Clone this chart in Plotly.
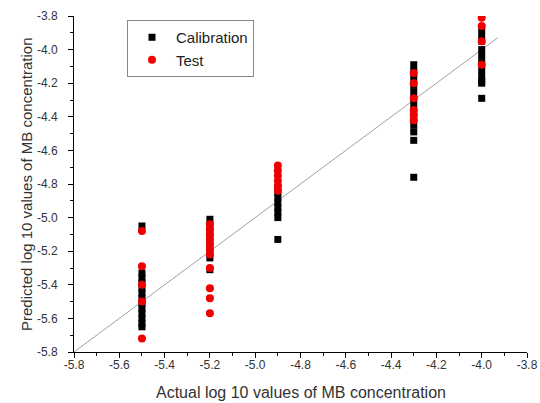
import plotly.graph_objects as go

# Calibration data (x = actual log10, y = predicted log10)
cal_x = [-5.5]*13 + [-5.2]*8 + [-4.9]*8 + [-4.3]*13 + [-4.0]*11
cal_y = [-5.05, -5.33, -5.36, -5.39, -5.42, -5.45, -5.48, -5.51, -5.54, -5.57, -5.60, -5.63, -5.65,
         -5.01, -5.05, -5.09, -5.13, -5.17, -5.21, -5.24, -5.31,
         -4.82, -4.85, -4.88, -4.91, -4.94, -4.97, -5.00, -5.13,
         -4.09, -4.13, -4.17, -4.21, -4.25, -4.29, -4.33, -4.37, -4.41, -4.45, -4.49, -4.54, -4.76,
         -3.87, -3.91, -3.95, -4.00, -4.04, -4.08, -4.12, -4.16, -4.19, -4.20, -4.29]

# Test data
test_x = [-5.5]*5 + [-5.2]*11 + [-4.9]*6 + [-4.3]*6 + [-4.0]*4
test_y = [-5.08, -5.29, -5.40, -5.50, -5.72,
          -5.04, -5.07, -5.10, -5.13, -5.16, -5.19, -5.22, -5.30, -5.42, -5.48, -5.57,
          -4.69, -4.72, -4.75, -4.78, -4.81, -4.84,
          -4.14, -4.20, -4.29, -4.36, -4.39, -4.42,
          -3.81, -3.86, -3.95, -4.09]

# Reference line y = x
line_x = [-5.8, -3.93]
line_y = [-5.8, -3.93]

# Tick values and labels
tick_vals = [-5.8, -5.6, -5.4, -5.2, -5.0, -4.8, -4.6, -4.4, -4.2, -4.0, -3.8]
tick_text = ["-5.8", "-5.6", "-5.4", "-5.2", "-5.0", "-4.8", "-4.6", "-4.4", "-4.2", "-4.0", "-3.8"]

fig = go.Figure()
fig.add_trace(go.Scatter(x=line_x, y=line_y, mode="lines",
                         line=dict(color="#a0a0a0", width=1), showlegend=False, hoverinfo="skip"))
fig.add_trace(go.Scatter(x=cal_x, y=cal_y, mode="markers", name="Calibration",
                         marker=dict(symbol="square", size=7, color="black")))
fig.add_trace(go.Scatter(x=test_x, y=test_y, mode="markers", name="Test",
                         marker=dict(symbol="circle", size=8, color="#ee0000")))

font = "Liberation Sans, Arial, sans-serif"
txt = "#333333"
axis_common = dict(
    range=[-5.8, -3.8], tickvals=tick_vals, ticktext=tick_text,
    showgrid=False, zeroline=False, showline=True, linecolor="black", linewidth=1,
    ticks="outside", ticklen=5, tickwidth=1, tickcolor="black",
    minor=dict(dtick=0.1, ticks="outside", ticklen=3, tickcolor="black", tickwidth=1),
    tickfont=dict(family=font, size=12, color=txt),
    mirror=False, automargin=False,
)

fig.update_layout(
    width=540, height=403,
    margin=dict(l=74, r=13, t=16, b=51),
    paper_bgcolor="white", plot_bgcolor="white",
    font=dict(family=font, color=txt),
    xaxis=dict(**axis_common, ticklabelstandoff=-3),
    yaxis=dict(**axis_common, ticklabelstandoff=8),
    legend=dict(x=0.117, y=0.988, xanchor="left", yanchor="top",
                bordercolor="#888888", borderwidth=1, bgcolor="white",
                font=dict(family=font, size=15, color="#222222"),
                itemwidth=38, tracegroupgap=0),
    showlegend=True,
    annotations=[
        dict(text="Actual log 10 values of MB concentration", xref="paper", yref="paper",
             x=0.5, y=-0.122, xanchor="center", yanchor="middle", showarrow=False,
             font=dict(family=font, size=16, color=txt)),
        dict(text="Predicted log 10 values of MB concentration", xref="paper", yref="paper",
             x=-0.106, y=0.5, xanchor="center", yanchor="middle", showarrow=False,
             textangle=-90, font=dict(family=font, size=15, color=txt)),
    ],
)

fig.write_html("out.html",
               config={"displayModeBar": False},
               post_script="document.body.style.margin='0';document.body.style.overflow='hidden';")
